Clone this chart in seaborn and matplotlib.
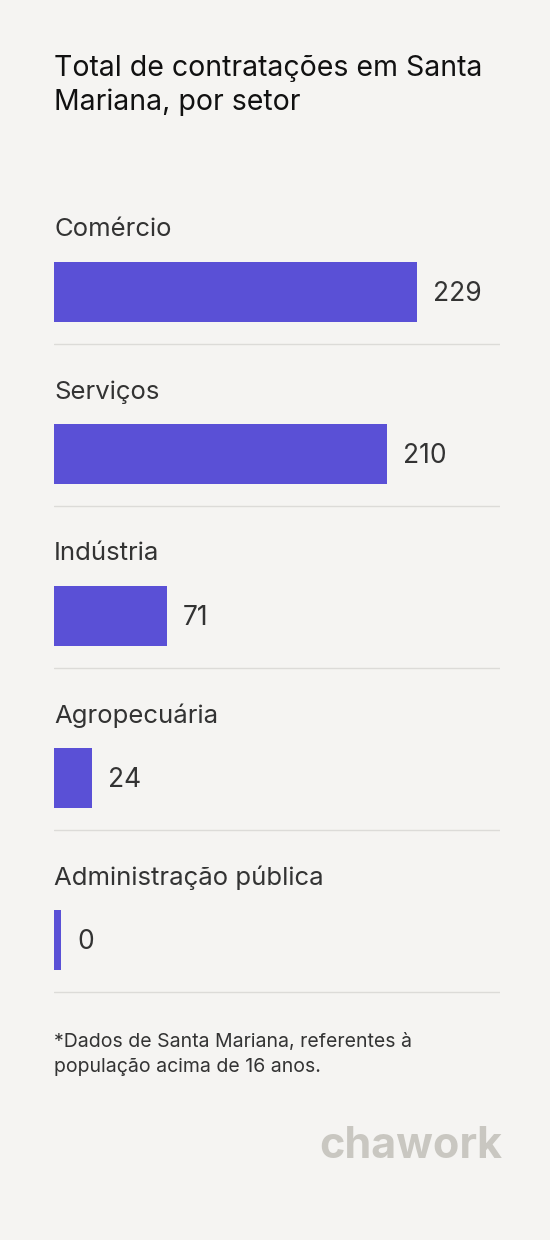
import matplotlib
matplotlib.use("Agg")
import matplotlib.pyplot as plt
import seaborn as sns
import pandas as pd

setores = ["Comércio", "Serviços", "Indústria", "Agropecuária", "Administração pública"]
valores = [229, 210, 71, 24, 0]

sns.set_theme(style="white")
plt.rcParams['font.family'] = ['Inter', 'DejaVu Sans']

W, H = 550, 1240
bg = "#f5f4f2"
fig = plt.figure(figsize=(W / 100, H / 100), dpi=100, facecolor=bg)

# axes covers x from 54px to 500px, full height, y in pixel units
ax = fig.add_axes([54 / W, 0, (500 - 54) / W, 1])
ax.set_facecolor("none")
px_per_unit = (417 - 54) / 229
ax.set_xlim(0, (500 - 54) / px_per_unit)
ax.set_ylim(H, 0)
ax.axis("off")

centros = [292 + 162 * i for i in range(len(setores))]
larg = [max(v, 7 / px_per_unit) for v in valores]
df = pd.DataFrame({"setor": setores, "valor": larg, "y": centros})
for _, r in df.iterrows():
    ax.barh(r["y"], r["valor"], height=60, color="#5a50d6", left=0, linewidth=0)

for i, (s, v) in enumerate(zip(setores, valores)):
    y = centros[i]
    ax.text(0, y - 62, s, fontsize=18.5, color="#333333", va="center", ha="left")
    ax.annotate(str(v), (larg[i], y + 2), xytext=(16, 0), textcoords="offset pixels",
                fontsize=19, color="#333333", va="center", ha="left")
    ax.axhline(y + 52, color="#dcdbd8", lw=1)

def ftext(x, y, s, **kw):
    fig.text(x / W, 1 - y / H, s, **kw)

ftext(54, 68, "Total de contratações em Santa", fontsize=20.5, color="#111111", va="center")
ftext(54, 102, "Mariana, por setor", fontsize=20.5, color="#111111", va="center")
ftext(54, 1042, "*Dados de Santa Mariana, referentes à", fontsize=14, color="#333333", va="center")
ftext(54, 1067, "população acima de 16 anos.", fontsize=14, color="#333333", va="center")
ftext(502, 1146, "chawork", fontsize=31, color="#c9c7c1", va="center", ha="right", fontweight="bold")

fig.savefig("out.png", dpi=100, facecolor=bg)
